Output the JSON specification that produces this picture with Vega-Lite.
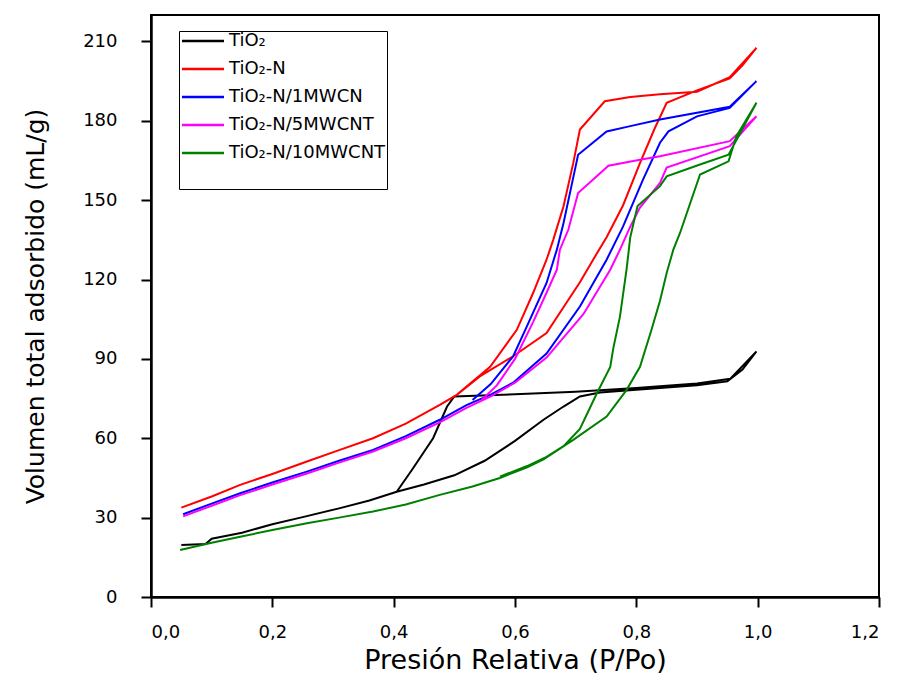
{
  "$schema": "https://vega.github.io/schema/vega-lite/v6.json",
  "width": 728,
  "height": 582,
  "autosize": {"type": "none"},
  "padding": {"left": 151, "top": 15, "right": 25, "bottom": 88},
  "background": "white",
  "config": {
    "view": {"stroke": "#000000", "strokeWidth": 2},
    "axis": {
      "domainColor": "#000000", "domainWidth": 2.5,
      "tickColor": "#000000", "tickWidth": 2, "tickSize": 10,
      "grid": false,
      "labelFont": "DejaVu Sans", "labelFontSize": 18, "labelColor": "#000000",
      "titleFont": "DejaVu Sans", "titleFontSize": 25, "titleFontWeight": "normal", "titleColor": "#000000"
    }
  },
  "datasets": {
    "iso": [
      {"s": "TiO₂", "i": 1, "x": 0.05, "y": 19.7},
      {"s": "TiO₂", "i": 2, "x": 0.09, "y": 20.0},
      {"s": "TiO₂", "i": 3, "x": 0.10, "y": 22.0},
      {"s": "TiO₂", "i": 4, "x": 0.15, "y": 24.3},
      {"s": "TiO₂", "i": 5, "x": 0.20, "y": 27.5},
      {"s": "TiO₂", "i": 6, "x": 0.25, "y": 30.2},
      {"s": "TiO₂", "i": 7, "x": 0.31, "y": 33.5},
      {"s": "TiO₂", "i": 8, "x": 0.36, "y": 36.5},
      {"s": "TiO₂", "i": 9, "x": 0.405, "y": 39.8},
      {"s": "TiO₂", "i": 10, "x": 0.45, "y": 42.5},
      {"s": "TiO₂", "i": 11, "x": 0.50, "y": 46.0},
      {"s": "TiO₂", "i": 12, "x": 0.55, "y": 51.5},
      {"s": "TiO₂", "i": 13, "x": 0.60, "y": 59.0},
      {"s": "TiO₂", "i": 14, "x": 0.647, "y": 67.0},
      {"s": "TiO₂", "i": 15, "x": 0.68, "y": 72.0},
      {"s": "TiO₂", "i": 16, "x": 0.707, "y": 75.8},
      {"s": "TiO₂", "i": 17, "x": 0.74, "y": 77.3},
      {"s": "TiO₂", "i": 18, "x": 0.80, "y": 78.3},
      {"s": "TiO₂", "i": 19, "x": 0.90, "y": 80.0},
      {"s": "TiO₂", "i": 20, "x": 0.95, "y": 81.5},
      {"s": "TiO₂", "i": 21, "x": 0.975, "y": 86.0},
      {"s": "TiO₂", "i": 22, "x": 0.998, "y": 92.8},
      {"s": "TiO₂", "i": 23, "x": 0.955, "y": 82.5},
      {"s": "TiO₂", "i": 24, "x": 0.90, "y": 80.7},
      {"s": "TiO₂", "i": 25, "x": 0.80, "y": 79.0},
      {"s": "TiO₂", "i": 26, "x": 0.70, "y": 77.6},
      {"s": "TiO₂", "i": 27, "x": 0.60, "y": 76.6},
      {"s": "TiO₂", "i": 28, "x": 0.50, "y": 75.8},
      {"s": "TiO₂", "i": 29, "x": 0.488, "y": 72.0},
      {"s": "TiO₂", "i": 30, "x": 0.465, "y": 60.0},
      {"s": "TiO₂", "i": 31, "x": 0.43, "y": 48.0},
      {"s": "TiO₂", "i": 32, "x": 0.405, "y": 39.8},

      {"s": "TiO₂-N", "i": 1, "x": 0.05, "y": 33.8},
      {"s": "TiO₂-N", "i": 2, "x": 0.10, "y": 38.0},
      {"s": "TiO₂-N", "i": 3, "x": 0.147, "y": 42.4},
      {"s": "TiO₂-N", "i": 4, "x": 0.20, "y": 46.5},
      {"s": "TiO₂-N", "i": 5, "x": 0.257, "y": 51.2},
      {"s": "TiO₂-N", "i": 6, "x": 0.31, "y": 55.5},
      {"s": "TiO₂-N", "i": 7, "x": 0.366, "y": 60.0},
      {"s": "TiO₂-N", "i": 8, "x": 0.42, "y": 65.5},
      {"s": "TiO₂-N", "i": 9, "x": 0.476, "y": 72.6},
      {"s": "TiO₂-N", "i": 10, "x": 0.504, "y": 76.4},
      {"s": "TiO₂-N", "i": 11, "x": 0.542, "y": 83.4},
      {"s": "TiO₂-N", "i": 12, "x": 0.597, "y": 91.0},
      {"s": "TiO₂-N", "i": 13, "x": 0.652, "y": 99.8},
      {"s": "TiO₂-N", "i": 14, "x": 0.707, "y": 119.0},
      {"s": "TiO₂-N", "i": 15, "x": 0.73, "y": 128.0},
      {"s": "TiO₂-N", "i": 16, "x": 0.751, "y": 136.0},
      {"s": "TiO₂-N", "i": 17, "x": 0.778, "y": 148.0},
      {"s": "TiO₂-N", "i": 18, "x": 0.806, "y": 164.0},
      {"s": "TiO₂-N", "i": 19, "x": 0.83, "y": 177.0},
      {"s": "TiO₂-N", "i": 20, "x": 0.85, "y": 186.8},
      {"s": "TiO₂-N", "i": 21, "x": 0.90, "y": 191.5},
      {"s": "TiO₂-N", "i": 22, "x": 0.954, "y": 196.0},
      {"s": "TiO₂-N", "i": 23, "x": 0.975, "y": 201.0},
      {"s": "TiO₂-N", "i": 24, "x": 0.998, "y": 207.6},
      {"s": "TiO₂-N", "i": 25, "x": 0.954, "y": 196.5},
      {"s": "TiO₂-N", "i": 26, "x": 0.90, "y": 191.0},
      {"s": "TiO₂-N", "i": 27, "x": 0.839, "y": 190.0},
      {"s": "TiO₂-N", "i": 28, "x": 0.79, "y": 189.0},
      {"s": "TiO₂-N", "i": 29, "x": 0.748, "y": 187.4},
      {"s": "TiO₂-N", "i": 30, "x": 0.707, "y": 176.7},
      {"s": "TiO₂-N", "i": 31, "x": 0.696, "y": 164.0},
      {"s": "TiO₂-N", "i": 32, "x": 0.68, "y": 147.7},
      {"s": "TiO₂-N", "i": 33, "x": 0.663, "y": 135.0},
      {"s": "TiO₂-N", "i": 34, "x": 0.652, "y": 127.5},
      {"s": "TiO₂-N", "i": 35, "x": 0.63, "y": 115.0},
      {"s": "TiO₂-N", "i": 36, "x": 0.603, "y": 101.0},
      {"s": "TiO₂-N", "i": 37, "x": 0.559, "y": 87.0},
      {"s": "TiO₂-N", "i": 38, "x": 0.504, "y": 76.4},

      {"s": "TiO₂-N/1MWCN", "i": 1, "x": 0.053, "y": 31.3},
      {"s": "TiO₂-N/1MWCN", "i": 2, "x": 0.10, "y": 35.3},
      {"s": "TiO₂-N/1MWCN", "i": 3, "x": 0.147, "y": 39.2},
      {"s": "TiO₂-N/1MWCN", "i": 4, "x": 0.20, "y": 43.3},
      {"s": "TiO₂-N/1MWCN", "i": 5, "x": 0.257, "y": 47.4},
      {"s": "TiO₂-N/1MWCN", "i": 6, "x": 0.31, "y": 51.5},
      {"s": "TiO₂-N/1MWCN", "i": 7, "x": 0.366, "y": 55.6},
      {"s": "TiO₂-N/1MWCN", "i": 8, "x": 0.42, "y": 60.8},
      {"s": "TiO₂-N/1MWCN", "i": 9, "x": 0.476, "y": 67.0},
      {"s": "TiO₂-N/1MWCN", "i": 10, "x": 0.52, "y": 72.5},
      {"s": "TiO₂-N/1MWCN", "i": 11, "x": 0.56, "y": 76.5},
      {"s": "TiO₂-N/1MWCN", "i": 12, "x": 0.597, "y": 81.0},
      {"s": "TiO₂-N/1MWCN", "i": 13, "x": 0.652, "y": 92.0},
      {"s": "TiO₂-N/1MWCN", "i": 14, "x": 0.707, "y": 109.8},
      {"s": "TiO₂-N/1MWCN", "i": 15, "x": 0.751, "y": 127.5},
      {"s": "TiO₂-N/1MWCN", "i": 16, "x": 0.778, "y": 140.0},
      {"s": "TiO₂-N/1MWCN", "i": 17, "x": 0.811, "y": 157.8},
      {"s": "TiO₂-N/1MWCN", "i": 18, "x": 0.839, "y": 171.7},
      {"s": "TiO₂-N/1MWCN", "i": 19, "x": 0.853, "y": 176.0},
      {"s": "TiO₂-N/1MWCN", "i": 20, "x": 0.90, "y": 181.7},
      {"s": "TiO₂-N/1MWCN", "i": 21, "x": 0.954, "y": 184.9},
      {"s": "TiO₂-N/1MWCN", "i": 22, "x": 0.998, "y": 195.0},
      {"s": "TiO₂-N/1MWCN", "i": 23, "x": 0.954, "y": 185.3},
      {"s": "TiO₂-N/1MWCN", "i": 24, "x": 0.839, "y": 180.5},
      {"s": "TiO₂-N/1MWCN", "i": 25, "x": 0.79, "y": 178.0},
      {"s": "TiO₂-N/1MWCN", "i": 26, "x": 0.751, "y": 176.0},
      {"s": "TiO₂-N/1MWCN", "i": 27, "x": 0.704, "y": 167.2},
      {"s": "TiO₂-N/1MWCN", "i": 28, "x": 0.693, "y": 155.3},
      {"s": "TiO₂-N/1MWCN", "i": 29, "x": 0.68, "y": 141.4},
      {"s": "TiO₂-N/1MWCN", "i": 30, "x": 0.669, "y": 131.3},
      {"s": "TiO₂-N/1MWCN", "i": 31, "x": 0.652, "y": 118.7},
      {"s": "TiO₂-N/1MWCN", "i": 32, "x": 0.619, "y": 102.0},
      {"s": "TiO₂-N/1MWCN", "i": 33, "x": 0.597, "y": 91.0},
      {"s": "TiO₂-N/1MWCN", "i": 34, "x": 0.56, "y": 80.5},
      {"s": "TiO₂-N/1MWCN", "i": 35, "x": 0.53, "y": 74.5},

      {"s": "TiO₂-N/5MWCNT", "i": 1, "x": 0.053, "y": 30.5},
      {"s": "TiO₂-N/5MWCNT", "i": 2, "x": 0.10, "y": 34.5},
      {"s": "TiO₂-N/5MWCNT", "i": 3, "x": 0.147, "y": 38.5},
      {"s": "TiO₂-N/5MWCNT", "i": 4, "x": 0.20, "y": 42.5},
      {"s": "TiO₂-N/5MWCNT", "i": 5, "x": 0.257, "y": 46.7},
      {"s": "TiO₂-N/5MWCNT", "i": 6, "x": 0.31, "y": 50.8},
      {"s": "TiO₂-N/5MWCNT", "i": 7, "x": 0.366, "y": 55.0},
      {"s": "TiO₂-N/5MWCNT", "i": 8, "x": 0.42, "y": 60.0},
      {"s": "TiO₂-N/5MWCNT", "i": 9, "x": 0.476, "y": 66.0},
      {"s": "TiO₂-N/5MWCNT", "i": 10, "x": 0.52, "y": 71.5},
      {"s": "TiO₂-N/5MWCNT", "i": 11, "x": 0.56, "y": 75.8},
      {"s": "TiO₂-N/5MWCNT", "i": 12, "x": 0.60, "y": 81.0},
      {"s": "TiO₂-N/5MWCNT", "i": 13, "x": 0.652, "y": 90.5},
      {"s": "TiO₂-N/5MWCNT", "i": 14, "x": 0.713, "y": 107.0},
      {"s": "TiO₂-N/5MWCNT", "i": 15, "x": 0.757, "y": 123.7},
      {"s": "TiO₂-N/5MWCNT", "i": 16, "x": 0.773, "y": 131.3},
      {"s": "TiO₂-N/5MWCNT", "i": 17, "x": 0.79, "y": 140.0},
      {"s": "TiO₂-N/5MWCNT", "i": 18, "x": 0.806, "y": 147.2},
      {"s": "TiO₂-N/5MWCNT", "i": 19, "x": 0.839, "y": 156.5},
      {"s": "TiO₂-N/5MWCNT", "i": 20, "x": 0.85, "y": 162.3},
      {"s": "TiO₂-N/5MWCNT", "i": 21, "x": 0.954, "y": 170.4},
      {"s": "TiO₂-N/5MWCNT", "i": 22, "x": 0.998, "y": 181.7},
      {"s": "TiO₂-N/5MWCNT", "i": 23, "x": 0.954, "y": 172.3},
      {"s": "TiO₂-N/5MWCNT", "i": 24, "x": 0.839, "y": 166.6},
      {"s": "TiO₂-N/5MWCNT", "i": 25, "x": 0.806, "y": 165.3},
      {"s": "TiO₂-N/5MWCNT", "i": 26, "x": 0.754, "y": 163.0},
      {"s": "TiO₂-N/5MWCNT", "i": 27, "x": 0.704, "y": 152.7},
      {"s": "TiO₂-N/5MWCNT", "i": 28, "x": 0.688, "y": 138.9},
      {"s": "TiO₂-N/5MWCNT", "i": 29, "x": 0.674, "y": 131.3},
      {"s": "TiO₂-N/5MWCNT", "i": 30, "x": 0.669, "y": 123.7},
      {"s": "TiO₂-N/5MWCNT", "i": 31, "x": 0.652, "y": 115.0},
      {"s": "TiO₂-N/5MWCNT", "i": 32, "x": 0.63, "y": 104.0},
      {"s": "TiO₂-N/5MWCNT", "i": 33, "x": 0.60, "y": 90.0},
      {"s": "TiO₂-N/5MWCNT", "i": 34, "x": 0.57, "y": 80.0},
      {"s": "TiO₂-N/5MWCNT", "i": 35, "x": 0.545, "y": 74.5},

      {"s": "TiO₂-N/10MWCNT", "i": 1, "x": 0.048, "y": 17.8},
      {"s": "TiO₂-N/10MWCNT", "i": 2, "x": 0.10, "y": 20.5},
      {"s": "TiO₂-N/10MWCNT", "i": 3, "x": 0.147, "y": 22.8},
      {"s": "TiO₂-N/10MWCNT", "i": 4, "x": 0.20, "y": 25.3},
      {"s": "TiO₂-N/10MWCNT", "i": 5, "x": 0.257, "y": 27.9},
      {"s": "TiO₂-N/10MWCNT", "i": 6, "x": 0.31, "y": 30.0},
      {"s": "TiO₂-N/10MWCNT", "i": 7, "x": 0.366, "y": 32.3},
      {"s": "TiO₂-N/10MWCNT", "i": 8, "x": 0.42, "y": 35.0},
      {"s": "TiO₂-N/10MWCNT", "i": 9, "x": 0.476, "y": 38.6},
      {"s": "TiO₂-N/10MWCNT", "i": 10, "x": 0.53, "y": 41.8},
      {"s": "TiO₂-N/10MWCNT", "i": 11, "x": 0.575, "y": 45.0},
      {"s": "TiO₂-N/10MWCNT", "i": 12, "x": 0.62, "y": 49.0},
      {"s": "TiO₂-N/10MWCNT", "i": 13, "x": 0.647, "y": 52.0},
      {"s": "TiO₂-N/10MWCNT", "i": 14, "x": 0.696, "y": 59.4},
      {"s": "TiO₂-N/10MWCNT", "i": 15, "x": 0.751, "y": 68.2},
      {"s": "TiO₂-N/10MWCNT", "i": 16, "x": 0.784, "y": 78.3},
      {"s": "TiO₂-N/10MWCNT", "i": 17, "x": 0.806, "y": 87.0},
      {"s": "TiO₂-N/10MWCNT", "i": 18, "x": 0.825, "y": 101.0},
      {"s": "TiO₂-N/10MWCNT", "i": 19, "x": 0.839, "y": 112.0},
      {"s": "TiO₂-N/10MWCNT", "i": 20, "x": 0.85, "y": 122.5},
      {"s": "TiO₂-N/10MWCNT", "i": 21, "x": 0.861, "y": 131.3},
      {"s": "TiO₂-N/10MWCNT", "i": 22, "x": 0.872, "y": 137.6},
      {"s": "TiO₂-N/10MWCNT", "i": 23, "x": 0.905, "y": 159.7},
      {"s": "TiO₂-N/10MWCNT", "i": 24, "x": 0.952, "y": 164.7},
      {"s": "TiO₂-N/10MWCNT", "i": 25, "x": 0.965, "y": 174.2},
      {"s": "TiO₂-N/10MWCNT", "i": 26, "x": 0.998, "y": 186.8},
      {"s": "TiO₂-N/10MWCNT", "i": 27, "x": 0.952, "y": 167.2},
      {"s": "TiO₂-N/10MWCNT", "i": 28, "x": 0.905, "y": 163.5},
      {"s": "TiO₂-N/10MWCNT", "i": 29, "x": 0.85, "y": 159.0},
      {"s": "TiO₂-N/10MWCNT", "i": 30, "x": 0.839, "y": 155.3},
      {"s": "TiO₂-N/10MWCNT", "i": 31, "x": 0.802, "y": 147.8},
      {"s": "TiO₂-N/10MWCNT", "i": 32, "x": 0.79, "y": 136.0},
      {"s": "TiO₂-N/10MWCNT", "i": 33, "x": 0.784, "y": 124.0},
      {"s": "TiO₂-N/10MWCNT", "i": 34, "x": 0.773, "y": 106.0},
      {"s": "TiO₂-N/10MWCNT", "i": 35, "x": 0.762, "y": 94.0},
      {"s": "TiO₂-N/10MWCNT", "i": 36, "x": 0.757, "y": 87.0},
      {"s": "TiO₂-N/10MWCNT", "i": 37, "x": 0.735, "y": 77.0},
      {"s": "TiO₂-N/10MWCNT", "i": 38, "x": 0.707, "y": 63.5},
      {"s": "TiO₂-N/10MWCNT", "i": 39, "x": 0.68, "y": 57.0},
      {"s": "TiO₂-N/10MWCNT", "i": 40, "x": 0.652, "y": 53.0},
      {"s": "TiO₂-N/10MWCNT", "i": 41, "x": 0.62, "y": 49.5},
      {"s": "TiO₂-N/10MWCNT", "i": 42, "x": 0.575, "y": 45.5}
    ]
  },
  "data": {"name": "iso"},
  "mark": {"type": "line", "strokeWidth": 2, "clip": true},
  "encoding": {
    "x": {
      "field": "x", "type": "quantitative",
      "scale": {"domain": [0, 1.2], "nice": false, "zero": false},
      "axis": {
        "title": "Presión Relativa (P/Po)",
        "values": [0, 0.2, 0.4, 0.6, 0.8, 1.0, 1.2],
        "labelExpr": "replace(format(datum.value, '.1f'), '.', ',')",
        "labelPadding": 16, "titlePadding": 6, "titleFontSize": 27
      }
    },
    "y": {
      "field": "y", "type": "quantitative",
      "scale": {"domain": [0, 220], "nice": false},
      "axis": {
        "title": "Volumen total adsorbido (mL/g)",
        "values": [0, 30, 60, 90, 120, 150, 180, 210],
        "labelPadding": 24, "titlePadding": 34
      }
    },
    "color": {
      "field": "s", "type": "nominal",
      "scale": {
        "domain": ["TiO₂", "TiO₂-N", "TiO₂-N/1MWCN", "TiO₂-N/5MWCNT", "TiO₂-N/10MWCNT"],
        "range": ["#000000", "#ff0000", "#0000ff", "#ff00ff", "#008000"]
      },
      "legend": {
        "orient": "none", "legendX": 28, "legendY": 16,
        "title": "\u00a0\u00a0\u00a0\u00a0\u00a0\u00a0\u00a0\u00a0\u00a0\u00a0\u00a0\u00a0\u00a0\u00a0\u00a0\u00a0\u00a0\u00a0\u00a0\u00a0\u00a0\u00a0\u00a0\u00a0\u00a0\u00a0\u00a0\u00a0\u00a0\u00a0\u00a0\u00a0\u00a0\u00a0\u00a0",
        "titleOrient": "bottom", "titleFontSize": 20, "titleFont": "DejaVu Sans", "titlePadding": 6, "titleLimit": 400,
        "symbolType": "M-1,0H5", "symbolSize": 196, "symbolStrokeWidth": 2.5,
        "labelFont": "DejaVu Sans", "labelFontSize": 18, "labelColor": "#000000", "labelOffset": 31,
        "rowPadding": 10,
        "strokeColor": "#000000", "fillColor": "#ffffff", "padding": 1
      }
    },
    "order": {"field": "i", "type": "quantitative"}
  }
}
